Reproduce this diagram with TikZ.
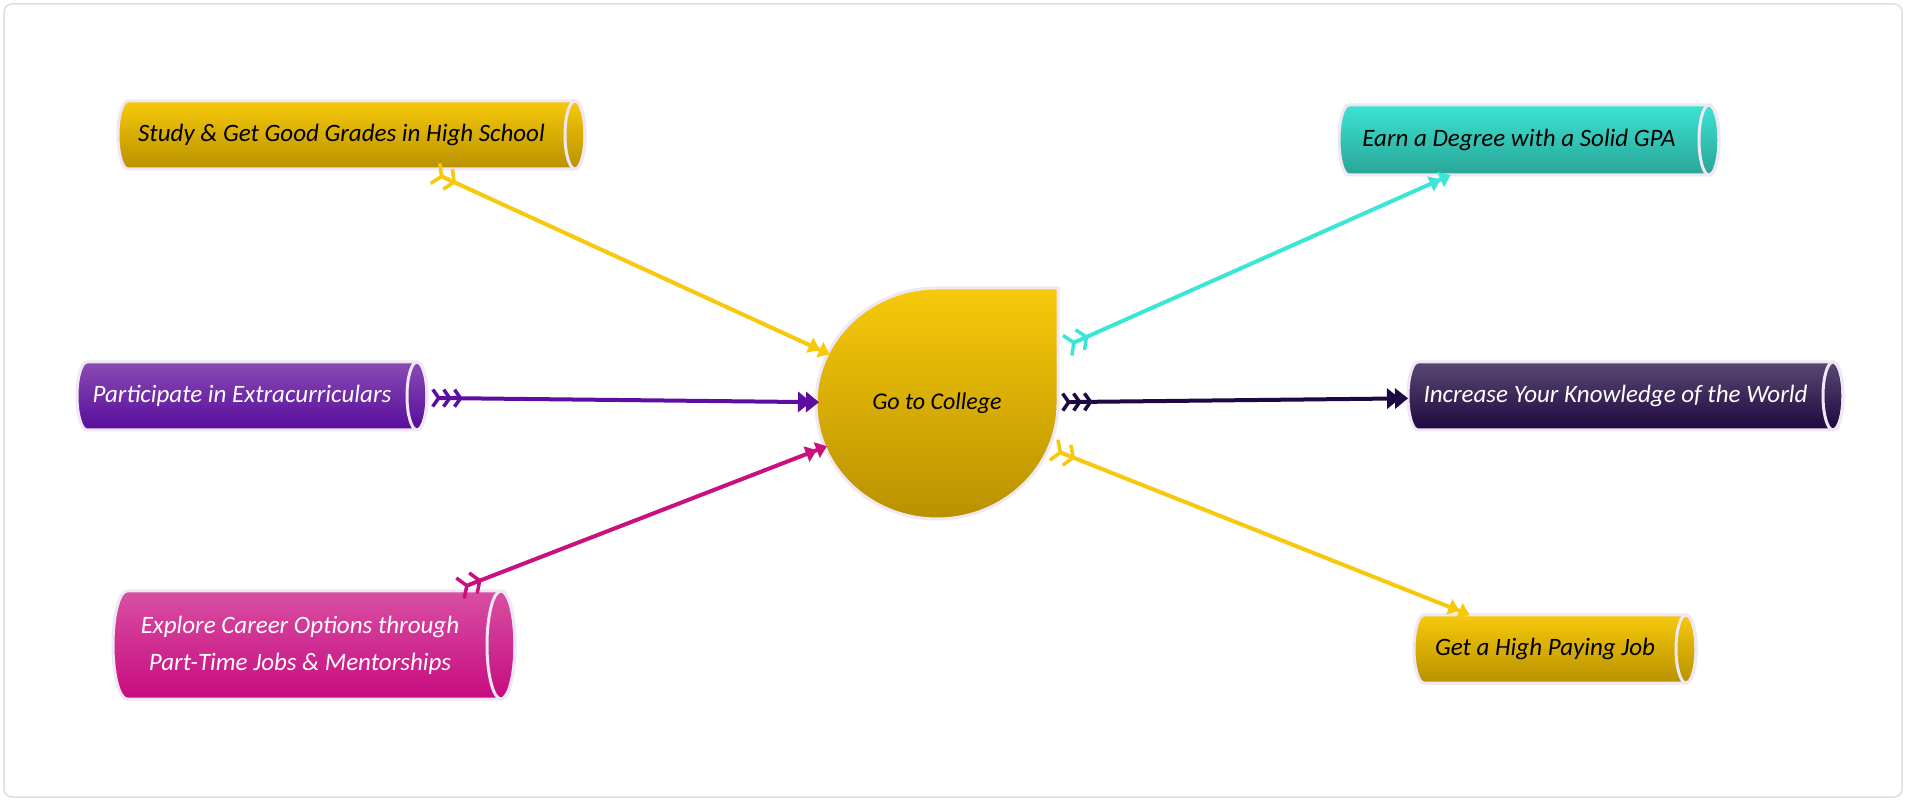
\documentclass[tikz,border=0pt]{standalone}
\usepackage{fontspec}
\setmainfont{Carlito}
\usetikzlibrary{arrows.meta,backgrounds}
\definecolor{yelT}{HTML}{F7C90B}
\definecolor{yelB}{HTML}{B89100}
\definecolor{yelA}{HTML}{F8C80A}
\definecolor{purT}{HTML}{8A4BB3}
\definecolor{purB}{HTML}{560C9B}
\definecolor{purA}{HTML}{5C0EA0}
\definecolor{magT}{HTML}{D84FA2}
\definecolor{magB}{HTML}{C70B80}
\definecolor{magA}{HTML}{C8107F}
\definecolor{cyaT}{HTML}{3BE3D5}
\definecolor{cyaB}{HTML}{29A596}
\definecolor{cyaA}{HTML}{3CE6D6}
\definecolor{dkT}{HTML}{594872}
\definecolor{dkB}{HTML}{1D0840}
\definecolor{dkA}{HTML}{1E0842}
\definecolor{edgec}{HTML}{EFE7F3}
\definecolor{framec}{HTML}{DEDEDE}
\newcommand\tubeshape[5]{%
  \path[top color=#4, bottom color=#5, draw=edgec, line width=3pt]
    ([xshift=#2pt]#1.north west) -- ([xshift=-#2pt]#1.north east)
    arc[start angle=90, end angle=-90, x radius=#2, y radius=#3]
    -- ([xshift=#2pt]#1.south west)
    arc[start angle=270, end angle=90, x radius=#2, y radius=#3] -- cycle;
  \draw[edgec, line width=3pt] ([xshift=-#2pt]#1.east) ellipse[x radius=#2, y radius=#3];
}
\tikzset{
  Feath/.tip={Straight Barb[reversed,length=7pt,width=22pt,line width=3.5pt,sep=3pt] Straight Barb[reversed,length=7pt,width=22pt,line width=3.5pt,sep=3pt]},
  Chev/.tip={Straight Barb[reversed,length=6pt,width=17pt,line width=3.5pt,sep=1pt] Straight Barb[reversed,length=6pt,width=17pt,line width=3.5pt,sep=1pt] Straight Barb[reversed,length=6pt,width=17pt,line width=3.5pt,sep=1pt]},
  DblTri/.tip={Triangle[length=11pt,width=16pt,sep=0pt] Triangle[length=11pt,width=16pt,sep=0pt]},
  BigTri/.tip={Triangle[length=13pt,width=20pt,sep=-5pt] Triangle[length=13pt,width=20pt]},
}
\begin{document}
\begin{tikzpicture}[x=1pt,y=1pt,
  tube/.style={rectangle, inner sep=0pt, outer sep=0pt,
    font=\fontsize{25}{37}\selectfont\itshape},
  conn/.style={line width=4pt}]
\useasboundingbox (0,0) rectangle (1906,801);
% nodes
\node[tube, minimum width=467pt, minimum height=68pt, text=black] (study) at (351.5,666) {Study \& Get Good Grades in High School\kern20pt};
\node[tube, minimum width=350pt, minimum height=68pt, text=white] (part) at (252,405) {Participate in Extracurriculars\kern20pt};
\node[tube, minimum width=402pt, minimum height=108pt, text=white] (expl) at (314,156) {\begin{tabular}{@{}c@{}}Explore Career Options through\\Part-Time Jobs \& Mentorships\end{tabular}\kern28pt};
\node[circle, minimum size=236pt, inner sep=0pt, outer sep=0pt, text=black,
  font=\fontsize{24}{28}\selectfont\itshape] (coll) at (937,397.5) {Go to College};
\node[tube, minimum width=380pt, minimum height=70pt, text=black] (earn) at (1529,661) {Earn a Degree with a Solid GPA\kern20pt};
\node[tube, minimum width=435pt, minimum height=68pt, text=white] (incr) at (1625.5,405) {Increase Your Knowledge of the World\kern20pt};
\node[tube, minimum width=282pt, minimum height=68pt, text=black] (job) at (1555,152) {Get a High Paying Job\kern20pt};
% shapes behind
\begin{scope}[on background layer]
  \fill[white] (0,0) rectangle (1906,801);
  \draw[framec, rounded corners=8pt, line width=1.5pt] (4,4) rectangle (1902,797);
  \tubeshape{study}{10}{34}{yelT}{yelB}
  \tubeshape{part}{10}{34}{purT}{purB}
  \tubeshape{expl}{14}{54}{magT}{magB}
  \tubeshape{earn}{10}{35}{cyaT}{cyaB}
  \tubeshape{incr}{10}{34}{dkT}{dkB}
  \tubeshape{job}{10}{34}{yelT}{yelB}
  \path[top color=yelT, bottom color=yelB, draw=edgec, line width=3pt]
    (937,513) -- (1058,513) -- (1058,397.5)
    arc[start angle=0, end angle=-270, x radius=121, y radius=115.5] -- cycle;
\end{scope}
% connectors
\draw[conn, yelA, {Feath}-{DblTri}, shorten <=6pt] (study) -- (coll);
\draw[conn, purA, {Chev}-{BigTri}, shorten <=3pt] (part) -- (coll);
\draw[conn, magA, {Feath}-{DblTri}, shorten <=3pt] (expl) -- (coll);
\draw[conn, cyaA, {Feath}-{DblTri}, shorten <=20pt] (coll) -- (earn);
\draw[conn, dkA, {Chev}-{BigTri}, shorten <=5pt] (coll) -- (incr);
\draw[conn, yelA, {Feath}-{DblTri}, shorten <=3pt] (coll) -- (job);
\end{tikzpicture}
\end{document}
